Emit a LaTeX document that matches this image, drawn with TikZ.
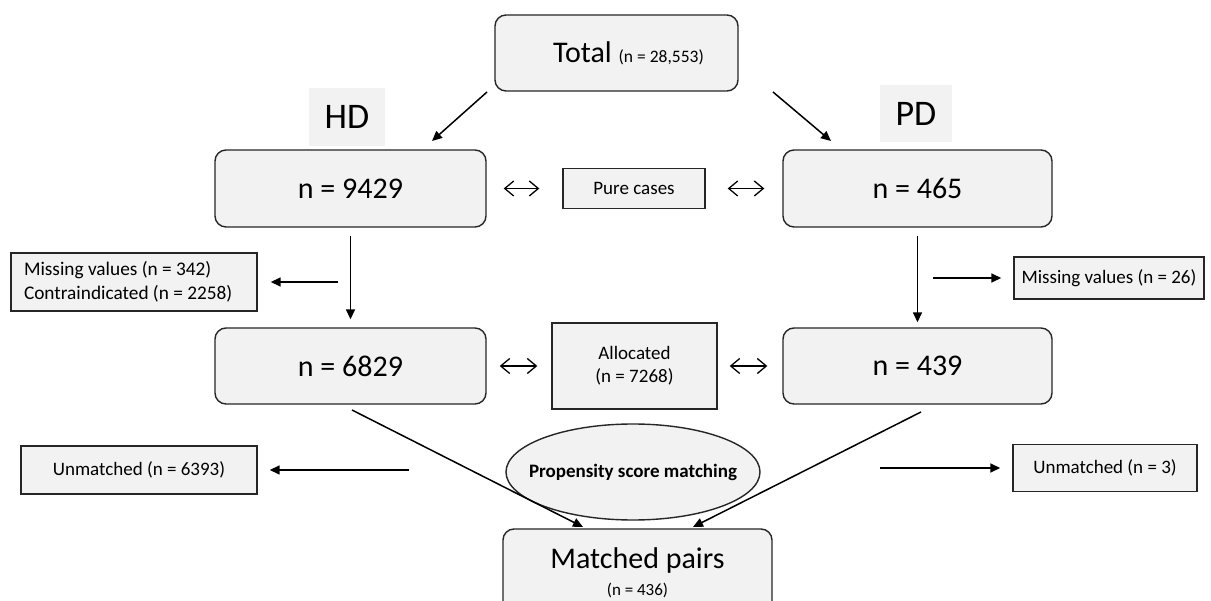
\documentclass[tikz,border=0pt]{standalone}
\usepackage{fontspec}
\setmainfont{Carlito}
\usetikzlibrary{arrows.meta,shapes.geometric,calc}
\definecolor{boxgray}{HTML}{F2F2F2}
\definecolor{edge}{HTML}{262626}
\begin{document}
\begin{tikzpicture}[x=1pt,y=-1pt]
\tikzset{
 rbox/.style={draw=edge, fill=boxgray, rounded corners=11pt, line width=1.4pt, inner sep=0pt, align=center},
 sbox/.style={draw=edge, fill=boxgray, line width=1.4pt, inner sep=0pt, align=center, font=\fontsize{19}{23}\selectfont},
 lbl/.style={fill=boxgray, inner sep=0pt, font=\fontsize{36}{40}\selectfont},
 bigtxt/.style={font=\fontsize{30}{34}\selectfont},
 arr/.style={-{Triangle[length=10pt,width=9pt]}, line width=1.5pt},
 dbl/.style={{Straight Barb[length=9pt,width=15pt]}-{Straight Barb[length=9pt,width=15pt]}, line width=1.3pt},
}
\clip (0,0) rectangle (1211,601);
\fill[white] (0,0) rectangle (1211,601);

% top
\node[rbox, minimum width=243pt, minimum height=76pt] (total) at (616.5,53)
  {\hspace*{24pt}\fontsize{30}{34}\selectfont Total \fontsize{17.5}{20}\selectfont(n = 28,553)};
\node[lbl, minimum width=76pt, minimum height=58pt] (hdl) at (347,117) {HD};
\node[lbl, minimum width=72pt, minimum height=57pt] (pdl) at (916,114) {PD};

% first row
\node[rbox, bigtxt, minimum width=271pt, minimum height=77pt] (hd1) at (350.5,188.5) {n = 9429};
\node[rbox, bigtxt, minimum width=269pt, minimum height=77pt] (pd1) at (917.5,188.5) {n = 465};
\node[sbox, minimum width=142pt, minimum height=40pt] (pure) at (634,188.5) {Pure cases};

% exclusions
\node[sbox, minimum width=246pt, minimum height=58pt, text width=220pt, align=flush left,
  font=\fontsize{19.3}{24}\selectfont] (miss1) at (134,282)
  {Missing values (n = 342)\\Contraindicated (n = 2258)};
\node[sbox, minimum width=190pt, minimum height=42pt] (miss2) at (1109,278) {Missing values (n = 26)};

% second row
\node[rbox, bigtxt, minimum width=271pt, minimum height=76pt] (hd2) at (350.5,366) {n = 6829};
\node[rbox, bigtxt, minimum width=269pt, minimum height=76pt] (pd2) at (917.5,366) {n = 439};
\node[sbox, minimum width=165pt, minimum height=86pt] (alloc) at (634.5,366) {Allocated\\(n = 7268)};

% matching
\node[sbox, minimum width=236pt, minimum height=48pt] (unm1) at (139,470) {Unmatched (n = 6393)};
\node[sbox, minimum width=184pt, minimum height=47pt] (unm2) at (1105,468) {Unmatched (n = 3)};
\node[ellipse, draw=edge, fill=boxgray, line width=1.4pt, minimum width=254pt, minimum height=96pt, inner sep=0pt,
  font=\bfseries\fontsize{19}{23}\selectfont] (psm) at (633,472) {\makebox[0pt]{Propensity score matching}};
\node[rbox, minimum width=269pt, minimum height=87pt] (mp) at (637.5,572.5)
  {\fontsize{30}{34}\selectfont Matched pairs\\[9pt]\fontsize{17}{18}\selectfont (n = 436)};

% arrows from total
\coordinate (t1) at (487,92); \coordinate (t1e) at (432,141);
\coordinate (t2) at (773,92); \coordinate (t2e) at (831,141);
\draw[arr] (t1) -- (t1e);
\draw[arr] (t2) -- (t2e);

% double arrows
\draw[dbl, shorten <=17pt, shorten >=23pt] (hd1) -- (pure);
\draw[dbl, shorten <=22pt, shorten >=18pt] (pure) -- (pd1);
\draw[dbl, shorten <=13pt, shorten >=14pt] (hd2) -- (alloc);
\draw[dbl, shorten <=12pt, shorten >=15pt] (alloc) -- (pd2);

% vertical arrows
\draw[arr, shorten <=8pt, shorten >=8pt] (hd1) -- (hd2);
\draw[arr, shorten <=8pt, shorten >=5pt] (pd1) -- (pd2);

% side arrows
\coordinate (m1) at (338,282);
\coordinate (m2) at (933,278);
\coordinate (u1) at (409,470);
\coordinate (u2) at (880,468);
\draw[arr, shorten >=13pt] (m1) -- (miss1);
\draw[arr, shorten >=12pt] (m2) -- (miss2);
\draw[arr, shorten >=12pt] (u1) -- (unm1);
\draw[arr, shorten >=12pt] (u2) -- (unm2);

% diagonals to matched pairs
\coordinate (d1) at (352,410); \coordinate (d1e) at (583,527);
\coordinate (d2) at (921,412); \coordinate (d2e) at (693,527);
\draw[arr] (d1) -- (d1e);
\draw[arr] (d2) -- (d2e);
\end{tikzpicture}
\end{document}
